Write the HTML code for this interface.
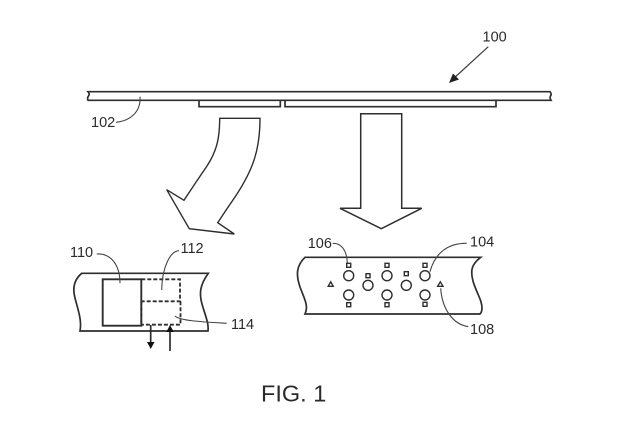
<!DOCTYPE html>
<html>
<head>
<meta charset="utf-8">
<style>
html,body{margin:0;padding:0;background:#fff;width:640px;height:425px;overflow:hidden}
svg{display:block}
text{font-family:"Liberation Sans",sans-serif;fill:#2a2a2a;font-size:14.5px}
.l{fill:none;stroke:#2e2e2e;stroke-width:1.7}
.t{fill:none;stroke:#444;stroke-width:1.1}
.d{fill:none;stroke:#2e2e2e;stroke-width:1.8;stroke-dasharray:4 2}
</style>
</head>
<body>
<svg width="640" height="425" viewBox="0 0 640 425" xmlns="http://www.w3.org/2000/svg">
<!-- top bar -->
<path class="l" d="M88 91.7H550Q552 94 550.5 96Q549.5 98 551 100.3H88Q87 98 88.5 96Q90 94 88 91.7Z"/>
<path class="l" d="M199 100.5V106.7H280.3V100.5"/>
<path class="l" d="M285 100.5V106.7H496V100.5"/>
<!-- arrows -->
<path class="l" style="stroke-width:1.4" d="M219.7 118.3H260C260 150 253 170 235 197Q226 210 217.7 222.7L234.3 234L189.3 228.7L166.7 189.7L184 200.3Q196 182 207 166C216 152 219.7 140 219.7 118.3Z"/>
<path class="l" style="stroke-width:1.5" d="M360.7 113.7H401.7V208.3H421.7L381.3 228.7L340 208.3H360.7Z"/>
<!-- 100 -->
<text x="482.5" y="41.5">100</text>
<path class="t" style="stroke-width:1.3" d="M488.3 46.7L453 79"/>
<path d="M449 83L453 73.5L459 79.5Z" fill="#222"/>
<!-- 102 -->
<text x="91" y="127">102</text>
<path class="t" d="M116 122.3C130 121 141 112 140 96.7"/>
<!-- left panel -->
<path class="l" d="M81.7 273.3H208.3C200 285 199 293 202 304C205 315 209 323 208 331H80C82 320 78 310 75 298C72 287 75 279 81.7 273.3Z"/>
<rect class="l" x="102.7" y="279.3" width="38.6" height="46.4" style="stroke-width:1.9"/>
<path class="d" d="M141.3 279.3H180V301.3H141.3"/>
<path class="d" d="M141.3 301.3V325M180.5 301.3V324.7H141.3"/>
<path class="l" d="M150.7 325V342"/>
<path d="M147 342H154.5L150.7 349Z" fill="#111"/>
<path class="l" d="M170 351V331"/>
<path d="M166.3 332H173.8L170 325Z" fill="#111"/>
<text x="70" y="257">110</text>
<text x="180.5" y="253">112</text>
<text x="231" y="329">114</text>
<path class="t" d="M96.7 254C110 253 120 264 120 283.3"/>
<path class="t" d="M179 250.7C170 251 162 268 161.7 290"/>
<path class="t" d="M175 316C180 321 205 322 226.7 323.3"/>
<!-- right panel -->
<path class="l" d="M305 257.3H480.7C472 264 470 270 473 281C476 292 482 300 482 308Q482 312 480 314H305C309 306 304 298 300 287C296 275 296 266 305 257.3Z"/>
<g class="l" style="stroke-width:1.4">
<circle cx="348.7" cy="275.7" r="5"/>
<circle cx="348.7" cy="295" r="5"/>
<circle cx="368" cy="285.3" r="5"/>
<circle cx="387" cy="275.7" r="5"/>
<circle cx="387" cy="295" r="5"/>
<circle cx="406.3" cy="285.3" r="5"/>
<circle cx="425" cy="275.7" r="5"/>
<circle cx="425" cy="295" r="5"/>
<rect x="346.7" y="263.3" width="4" height="4"/>
<rect x="346.7" y="302.7" width="4" height="4"/>
<rect x="366" y="273.7" width="4" height="4"/>
<rect x="385" y="263.3" width="4" height="4"/>
<rect x="385" y="302.7" width="4" height="4"/>
<rect x="404.3" y="271.7" width="4" height="4"/>
<rect x="423" y="263.3" width="4" height="4"/>
<rect x="423" y="302.3" width="4" height="4"/>
<path d="M330.7 281.8L333.2 286.3H328.2Z"/>
<path d="M440.3 281.8L443 286.3H437.6Z"/>
</g>
<text x="307.7" y="248">106</text>
<text x="470" y="246.7">104</text>
<text x="470" y="334">108</text>
<path class="t" d="M332.7 243.3C341 243 347 250 347.3 263.3"/>
<path class="t" d="M466.7 243.3C448 243 435 253 430 271.7"/>
<path class="t" d="M440.7 288.3C442 308 452 324 468.3 326.7"/>
<!-- caption -->
<text x="261" y="401.7" style="font-size:23.5px">FIG. 1</text>
</svg>
</body>
</html>
